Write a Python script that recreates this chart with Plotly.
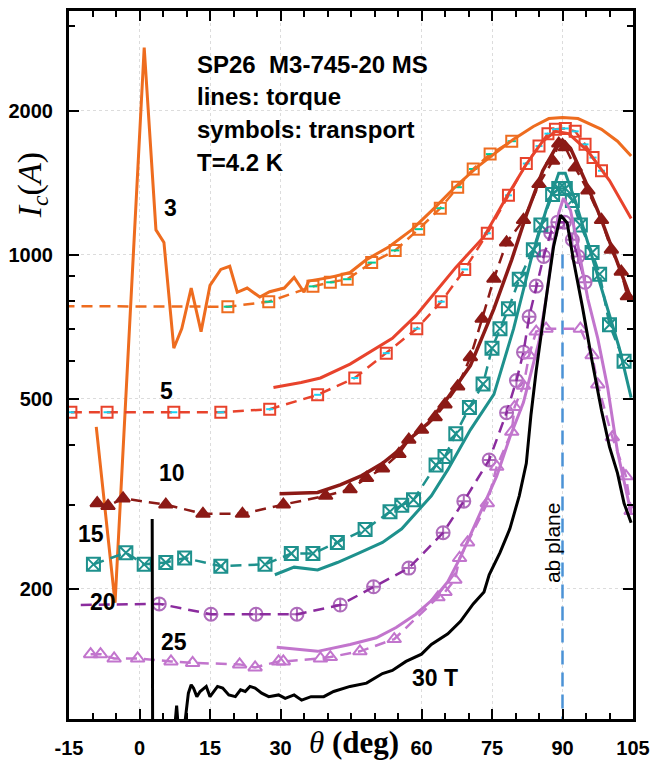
import numpy as np
import plotly.graph_objects as go

# ---------------- data (angle in deg, Ic in A) ----------------
# 3 T
t3_torque_deg = [-9.2, -5.2, 1.0, 3.5, 5.2, 7.3, 9.0, 11.0, 13.1, 15.0, 17.3, 19.2, 20.8, 22.9, 25.6, 27.7,
                 30.8, 32.9, 35.0, 36.0, 40.6, 44.8, 48.3, 53.1, 57.9, 62.9, 67.1, 71.9, 75.4, 79.6, 83.8,
                 87.1, 90.0, 93.3, 98.3, 101.7, 104.6]
t3_torque_ic = [436, 187, 2710, 1126, 1060, 637, 700, 851, 690, 862, 931, 945, 834, 851, 815, 836,
                851, 896, 834, 880, 896, 917, 976, 1038, 1126, 1255, 1383, 1525, 1622, 1743, 1853,
                1925, 1935, 1925, 1828, 1726, 1607]
t3_trans_deg = [-20, 18.8, 27.5, 36.9, 40.6, 44.2, 49.4, 54.4, 59.4, 64.0, 67.7, 71.0, 74.6, 79.2]
t3_trans_ic = [780, 778, 797, 858, 875, 888, 962, 1020, 1130, 1250, 1383, 1510, 1622, 1726]

# 5 T
t5_torque_deg = [28.5, 34.4, 38.5, 44.8, 53.8, 58.8, 63.5, 67.3, 73.3, 78.1, 82.3, 85.8, 88.5, 91.3, 95.4,
                 100.0, 104.6]
t5_torque_ic = [527, 540, 552, 590, 668, 745, 847, 940, 1090, 1320, 1545, 1726, 1810, 1790, 1646, 1428, 1190]
t5_trans_deg = [-14.6, -6.9, 7.3, 17.3, 27.7, 37.9, 45.8, 52.5, 59.0, 64.2, 69.2, 74.0, 78.5, 82.3, 85.0,
                86.9, 88.5, 90.6, 92.7, 94.8, 96.5, 98.3]
t5_trans_ic = [468, 468, 468, 468, 475, 509, 552, 622, 700, 797, 931, 1108, 1330, 1550, 1686,
               1790, 1828, 1835, 1810, 1700, 1595, 1497]

# 10 T
t10_torque_deg = [29.8, 37.9, 42.7, 47.3, 51.7, 55.2, 57.9, 61.5, 65.6, 70.4, 75.4, 79.2, 82.3, 85.8, 88.5,
                  90.0, 91.7, 94.8, 97.9, 101.0, 104.6]
t10_torque_ic = [316, 318, 330, 345, 366, 390, 415, 445, 502, 586, 770, 976, 1209, 1497, 1668,
                 1735, 1668, 1428, 1209, 1003, 807]
t10_trans_deg = [-9.0, -6.7, -3.5, 5.6, 13.5, 21.9, 30.6, 39.6, 44.8, 48.3, 51.7, 55.2, 57.3, 60.0, 62.9,
                 65.0, 67.7, 70.4, 72.9, 75.4, 78.1, 81.7, 85.0, 87.9, 89.2, 90.6, 92.7, 95.4, 98.3,
                 100.4, 102.5, 103.8]
t10_trans_ic = [302, 298, 309, 300, 287, 287, 300, 313, 323, 341, 357, 383, 410, 430, 457,
                486, 530, 610, 734, 890, 1060, 1181, 1404, 1570, 1706, 1676, 1520, 1361, 1181,
                1024, 921, 818]

# 15 T
t15_torque_deg = [28.8, 32.9, 37.9, 42.1, 46.9, 51.7, 55.8, 58.8, 62.1, 65.6, 70.4, 75.4, 79.6, 83.3, 86.5,
                  89.2, 90.6, 92.7, 95.8, 99.0, 102.1, 104.6]
t15_torque_ic = [214, 222, 219, 227, 238, 250, 267, 288, 313, 355, 430, 510, 700, 976, 1238,
                 1480, 1480, 1298, 1024, 807, 637, 502]
t15_trans_deg = [-9.8, -2.9, 1.0, 5.6, 9.6, 17.3, 26.7, 32.3, 36.9, 42.1, 48.0, 53.3, 55.8, 58.3, 63.1,
                 65.0, 67.3, 70.2, 73.1, 75.0, 76.7, 78.5, 80.8, 83.8, 85.4, 87.9, 89.2, 90.6, 92.1,
                 93.8, 96.3, 97.9, 100.0, 103.1]
t15_trans_ic = [225, 238, 225, 227, 232, 223, 225, 237, 237, 250, 266, 290, 299, 307, 363,
                378, 422, 479, 536, 637, 700, 770, 888, 1024, 1153, 1335, 1375, 1375, 1298,
                1153, 1010, 910, 713, 598]

# 20 T (transport only)
t20_trans_deg = [-12.5, 4.2, 15.2, 24.8, 33.5, 42.7, 49.8, 57.3, 64.6, 69.0, 74.4, 78.1, 80.2, 81.7, 82.9,
                 84.4, 86.0, 87.5, 89.0, 90.4, 92.1, 93.3, 94.8]
t20_trans_ic = [185, 186, 177, 177, 177, 185, 202, 221, 262, 305, 372, 467, 545, 625, 741,
                859, 991, 1110, 1169, 1169, 1074, 991, 875]

# 25 T
t25_torque_deg = [29.2, 37.9, 44.8, 50.4, 54.6, 58.8, 62.9, 65.6, 68.3, 72.5, 76.0, 78.8, 81.7, 85.0, 86.5,
                  87.9, 89.2, 90.2, 91.7, 93.3, 95.4, 97.5, 99.6, 101.7, 103.8, 104.6]
t25_torque_ic = [151, 148, 153, 158, 166, 177, 192, 207, 233, 288, 344, 415, 491, 658, 807,
                 1024, 1221, 1311, 1238, 1039, 807, 668, 527, 387, 313, 288]
t25_trans_deg = [-10.4, -8.3, -5.4, -0.4, 6.7, 11.3, 21.3, 24.6, 29.6, 30.6, 38.5, 40.6, 46.9, 54.2, 63.5,
                 65.0, 67.1, 68.1, 69.8, 74.0, 76.0, 79.2, 79.8, 81.7, 82.9, 84.4, 86.5, 93.8, 96.3,
                 97.5, 100.6, 103.5, 104.6]
t25_trans_ic = [146, 146, 143, 143, 141, 140, 139, 137, 141, 141, 143, 144, 148, 157, 192,
                197, 209, 232, 250, 302, 360, 426, 480, 532, 616, 690, 700, 700, 616,
                535, 415, 344, 291]

# 30 T (torque)
t30_torque_deg = [2.7, 2.8, 7.2, 7.9, 8.5, 9.4, 10.4, 11.0, 11.5, 12.2, 12.9, 14.2, 15.0, 15.6, 16.6,
                  17.7, 19.0, 20.4, 21.5, 22.5, 23.5, 24.6, 26.0, 27.5, 29.6, 31.0, 32.9, 34.5, 36.5,
                  39.2, 41.3, 44.8, 48.3, 51.7, 53.8, 56.7, 60.0, 62.1, 65.6, 68.3, 69.8, 71.0, 73.3,
                  74.4, 76.7, 78.8, 80.8, 82.3, 83.3, 84.4, 86.5, 88.1, 89.6, 91.0, 92.3, 94.2, 96.3,
                  98.3, 100.0, 101.7, 103.1, 104.6]
t30_torque_ic = [280, 95, 95, 114, 95, 100, 121, 126, 124, 119, 122, 125, 119, 121, 125,
                 124, 120, 119, 123, 122, 125, 124, 121, 119, 120, 118, 120, 117, 119,
                 119, 122, 125, 127, 133, 135, 141, 146, 153, 161, 171, 179, 186, 197,
                 214, 238, 267, 313, 366, 463, 571, 807, 1039, 1209, 1164, 976, 781, 598,
                 472, 396, 349, 302, 275]

ab_plane_deg = [90, 90]
ab_plane_ic = [1000, 95]

x_ticks = [-15, 0, 15, 30, 60, 75, 90, 105]
x_ticktext = ["-15", "0", "15", "30", "60", "75", "90", "105"]
y_ticks = [200, 500, 1000, 2000]
y_ticktext = ["200", "500", "1000", "2000"]
y_minor = [300, 400, 600, 700, 800, 900, 3000]

curve_labels = ["3", "5", "10", "15", "20", "25", "30 T"]
label_deg = [6.7, 5.8, 6.9, -10.4, -7.7, 7.3, 62.9]
label_ic = [1250, 519, 349, 261, 188, 155, 130]

info_lines = ["SP26&nbsp;&nbsp;M3-745-20 MS", "lines: torque", "symbols: transport", "T=4.2 K"]
info_ic = [2500, 2138, 1827, 1555]
info_deg = 11.9

# ---------------- styles ----------------
C3, C5, C10, C15, C20, C25, C30 = "#EE6C1F", "#E8432C", "#8C1A16", "#1E918D", "#8B2C9E", "#C275CD", "#000000"
CB = "#4B92D6"
SANS = "Liberation Sans, Arial, sans-serif"
SERIF = "Liberation Serif, Times New Roman, serif"
DASH = "11px,7px"

fig = go.Figure()


def torque(x, y, c, w=3):
    fig.add_trace(go.Scatter(x=x, y=y, mode="lines", line=dict(color=c, width=w), showlegend=False))


def transport(x, y, c, sym, size, msizes=None):
    m = dict(symbol=sym, size=msizes if msizes is not None else size, color=c,
             line=dict(color=c, width=2))
    fig.add_trace(go.Scatter(x=x, y=y, mode="lines+markers", line=dict(color=c, width=2.5, dash=DASH),
                             marker=m, showlegend=False))


# blue ab-plane line
fig.add_trace(go.Scatter(x=ab_plane_deg, y=ab_plane_ic, mode="lines",
                         line=dict(color=CB, width=2.5, dash="14px,8px"), showlegend=False))

transport(t3_trans_deg, t3_trans_ic, C3, "square-open", 11)
fig.add_trace(go.Scatter(x=t3_trans_deg, y=t3_trans_ic, mode="markers",
                         marker=dict(symbol="line-ew-open", size=6, line=dict(color=C3, width=2)),
                         showlegend=False))
torque(t3_torque_deg, t3_torque_ic, C3)

transport(t5_trans_deg, t5_trans_ic, C5, "square-open", 11)
fig.add_trace(go.Scatter(x=t5_trans_deg, y=t5_trans_ic, mode="markers",
                         marker=dict(symbol="line-ew-open", size=5, line=dict(color=C5, width=2)),
                         showlegend=False))
torque(t5_torque_deg, t5_torque_ic, C5)

transport(t10_trans_deg, t10_trans_ic, C10, "triangle-up", 12)
torque(t10_torque_deg, t10_torque_ic, C10, 3.5)

transport(t15_trans_deg, t15_trans_ic, C15, "square-x-open", 13)
torque(t15_torque_deg, t15_torque_ic, C15)

sizes20 = [0] + [13] * (len(t20_trans_deg) - 1)
transport(t20_trans_deg, t20_trans_ic, C20, "circle-cross-open", 13, msizes=sizes20)

transport(t25_trans_deg, t25_trans_ic, C25, "triangle-up-open", 12)
torque(t25_torque_deg, t25_torque_ic, C25)

torque(t30_torque_deg, t30_torque_ic, C30)

ann = []
for t, xd, yd in zip(curve_labels, label_deg, label_ic):
    ann.append(dict(x=xd, y=np.log10(yd), xref="x", yref="y", text=t, showarrow=False,
                    font=dict(family=SANS, size=23, color="black", weight="bold")))
for t, yd in zip(info_lines, info_ic):
    ann.append(dict(x=info_deg, y=np.log10(yd), xref="x", yref="y", text=t, showarrow=False,
                    xanchor="left", yanchor="middle",
                    font=dict(family=SANS, size=24, color="black", weight="bold")))
ann.append(dict(x=87.9, y=np.log10(250), xref="x", yref="y", text="ab plane", textangle=-90,
                showarrow=False, font=dict(family=SANS, size=21, color="black")))
ann.append(dict(x=(354 - 63) / 576, y=-0.033, xref="paper", yref="paper",
                text="<i>θ</i> <b>(deg)</b>", showarrow=False, xanchor="center", yanchor="middle",
                font=dict(family=SERIF, size=31, color="black")))
ann.append(dict(x=-0.066, y=0.7535, xref="paper", yref="paper", textangle=-90,
                text="<i>I</i><sub><i>c</i></sub>(<i>A</i>)", showarrow=False,
                xanchor="center", yanchor="middle",
                font=dict(family=SERIF, size=34, color="black")))

fig.update_layout(
    width=658, height=767,
    margin=dict(l=63, r=19, t=8, b=41),
    paper_bgcolor="white", plot_bgcolor="white",
    annotations=ann,
    xaxis=dict(range=[-15, 105], tickmode="array", tickvals=x_ticks, ticktext=x_ticktext,
               ticks="inside", ticklen=10, tickwidth=2, tickcolor="black",
               showline=True, linecolor="black", linewidth=3, mirror="allticks",
               showgrid=True, gridcolor="#dcdcdc", griddash="dot", gridwidth=1, zeroline=False,
               tickfont=dict(family=SANS, size=20, color="black", weight="bold"),
               ticklabelstandoff=9,
               minor=dict(dtick=5, tick0=0, ticks="inside", ticklen=6, tickwidth=2,
                          tickcolor="black", showgrid=False)),
    yaxis=dict(type="log", range=[2.0288, 3.5093], tickmode="array", tickvals=y_ticks,
               ticktext=y_ticktext,
               ticks="inside", ticklen=10, tickwidth=2, tickcolor="black",
               showline=True, linecolor="black", linewidth=3, mirror="allticks",
               showgrid=True, gridcolor="#dcdcdc", griddash="dot", gridwidth=1, zeroline=False,
               tickfont=dict(family=SANS, size=20, color="black", weight="bold"),
               ticklabelstandoff=9,
               minor=dict(tickmode="array", tickvals=y_minor, ticks="inside", ticklen=6,
                          tickwidth=2, tickcolor="black", showgrid=False)),
)

fig.write_html("out.html")
